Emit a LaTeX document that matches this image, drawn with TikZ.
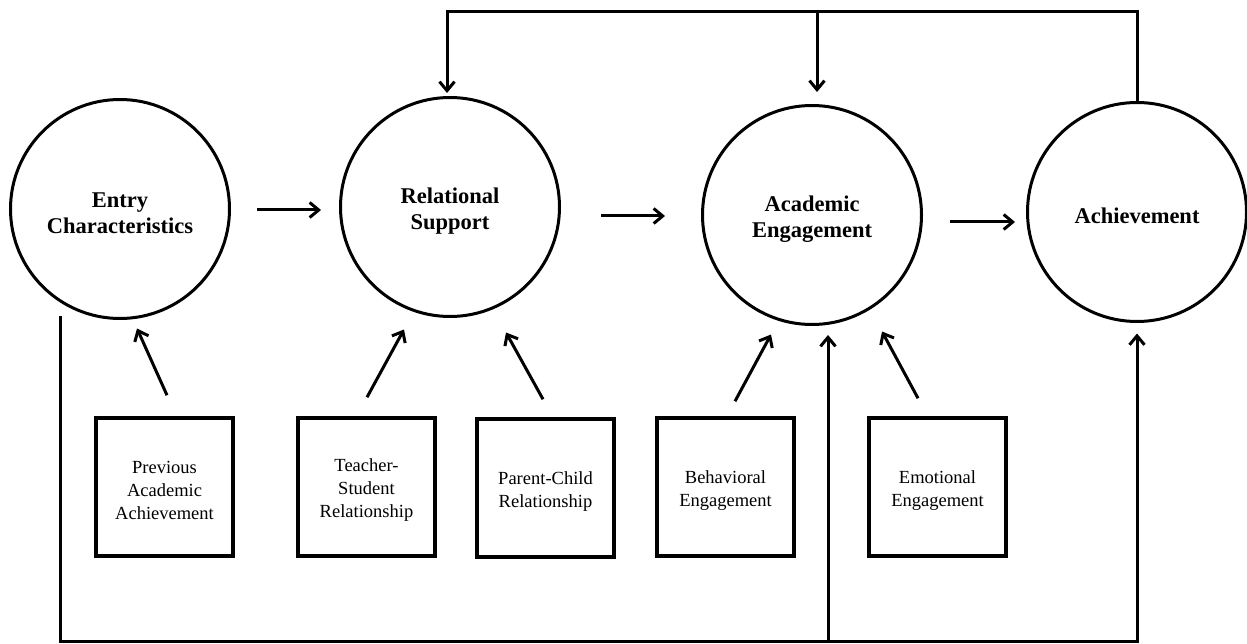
\documentclass[tikz,border=0pt]{standalone}
\usepackage{fontspec}
\setmainfont{Liberation Serif}
\usetikzlibrary{arrows.meta}
\newcommand{\topstrut}[1]{\rule{0pt}{#1}}
\begin{document}
\begin{tikzpicture}[x=1pt,y=-1pt,
  bigc/.style={draw, circle, line width=3pt, minimum size=219pt, inner sep=0pt, align=center, font=\fontsize{22.5}{26}\selectfont\bfseries},
  smallbox/.style={draw, rectangle, line width=3.5pt, minimum width=137pt, minimum height=138pt, inner sep=0pt, align=center, font=\fontsize{18.5}{23}\selectfont},
  arr/.style={line width=3pt, -{Straight Barb[length=9pt,width=15pt,line width=3pt]}},
  plain/.style={line width=3pt}]
\useasboundingbox (0,0) rectangle (1247,644);
% circles
\node[bigc] (entry) at (120,209) {\topstrut{23pt}Entry\\Characteristics};
\node[bigc] (rel) at (450,207) {\topstrut{24pt}Relational\\Support};
\node[bigc] (acad) at (812,215) {\topstrut{24pt}Academic\\Engagement};
\node[bigc] (ach) at (1137,212) {\topstrut{23pt}Achievement};
% boxes
\node[smallbox] (prev) at (164.5,487) {\topstrut{19.5pt}Previous\\Academic\\Achievement};
\node[smallbox] (teach) at (366.5,487) {\topstrut{19.5pt}Teacher-\\Student\\Relationship};
\node[smallbox] (parent) at (545.5,488) {\topstrut{20.5pt}Parent-Child\\Relationship};
\node[smallbox] (behav) at (725.5,487) {\topstrut{20.5pt}Behavioral\\Engagement};
\node[smallbox] (emo) at (937.5,487) {\topstrut{20.5pt}Emotional\\Engagement};
% horizontal arrows
\draw[arr] ([shift={(26,1)}]entry.east) -- ([shift={(-18,3)}]rel.west);
\draw[arr] ([shift={(40,9)}]rel.east) -- ([shift={(-36,1)}]acad.west);
\draw[arr] ([shift={(27,7)}]acad.east) -- ([shift={(-11,10)}]ach.west);
% diagonal arrows
\draw[arr] ([shift={(2.5,-21)}]prev.north) -- ([shift={(17,8.5)}]entry.south);
\draw[arr] ([shift={(0.5,-19)}]teach.north) -- ([shift={(-46,11.5)}]rel.south);
\draw[arr] ([shift={(-2.5,-18)}]parent.north) -- ([shift={(56,14.5)}]rel.south);
\draw[arr] ([shift={(9.5,-15)}]behav.north) -- ([shift={(-41,8.5)}]acad.south);
\draw[arr] ([shift={(-19.5,-18)}]emo.north) -- ([shift={(70,5.5)}]acad.south);
% top feedback
\coordinate (tr) at (1137,12);
\coordinate (tm) at (817,12);
\draw[arr] (ach.north) -- (tr) -| ([shift={(-3,-3)}]rel.north);
\draw[arr] (tm) -- ([shift={(5,-12)}]acad.north);
% bottom feedback
\coordinate (bstart) at (60,316);
\coordinate (bl) at (60,641);
\coordinate (bm) at (828,641);
\draw[arr] (bstart) -- (bl) -| ([shift={(0,10.5)}]ach.south);
\draw[arr] (bm) -- ([shift={(16,9)}]acad.south);
\end{tikzpicture}
\end{document}
